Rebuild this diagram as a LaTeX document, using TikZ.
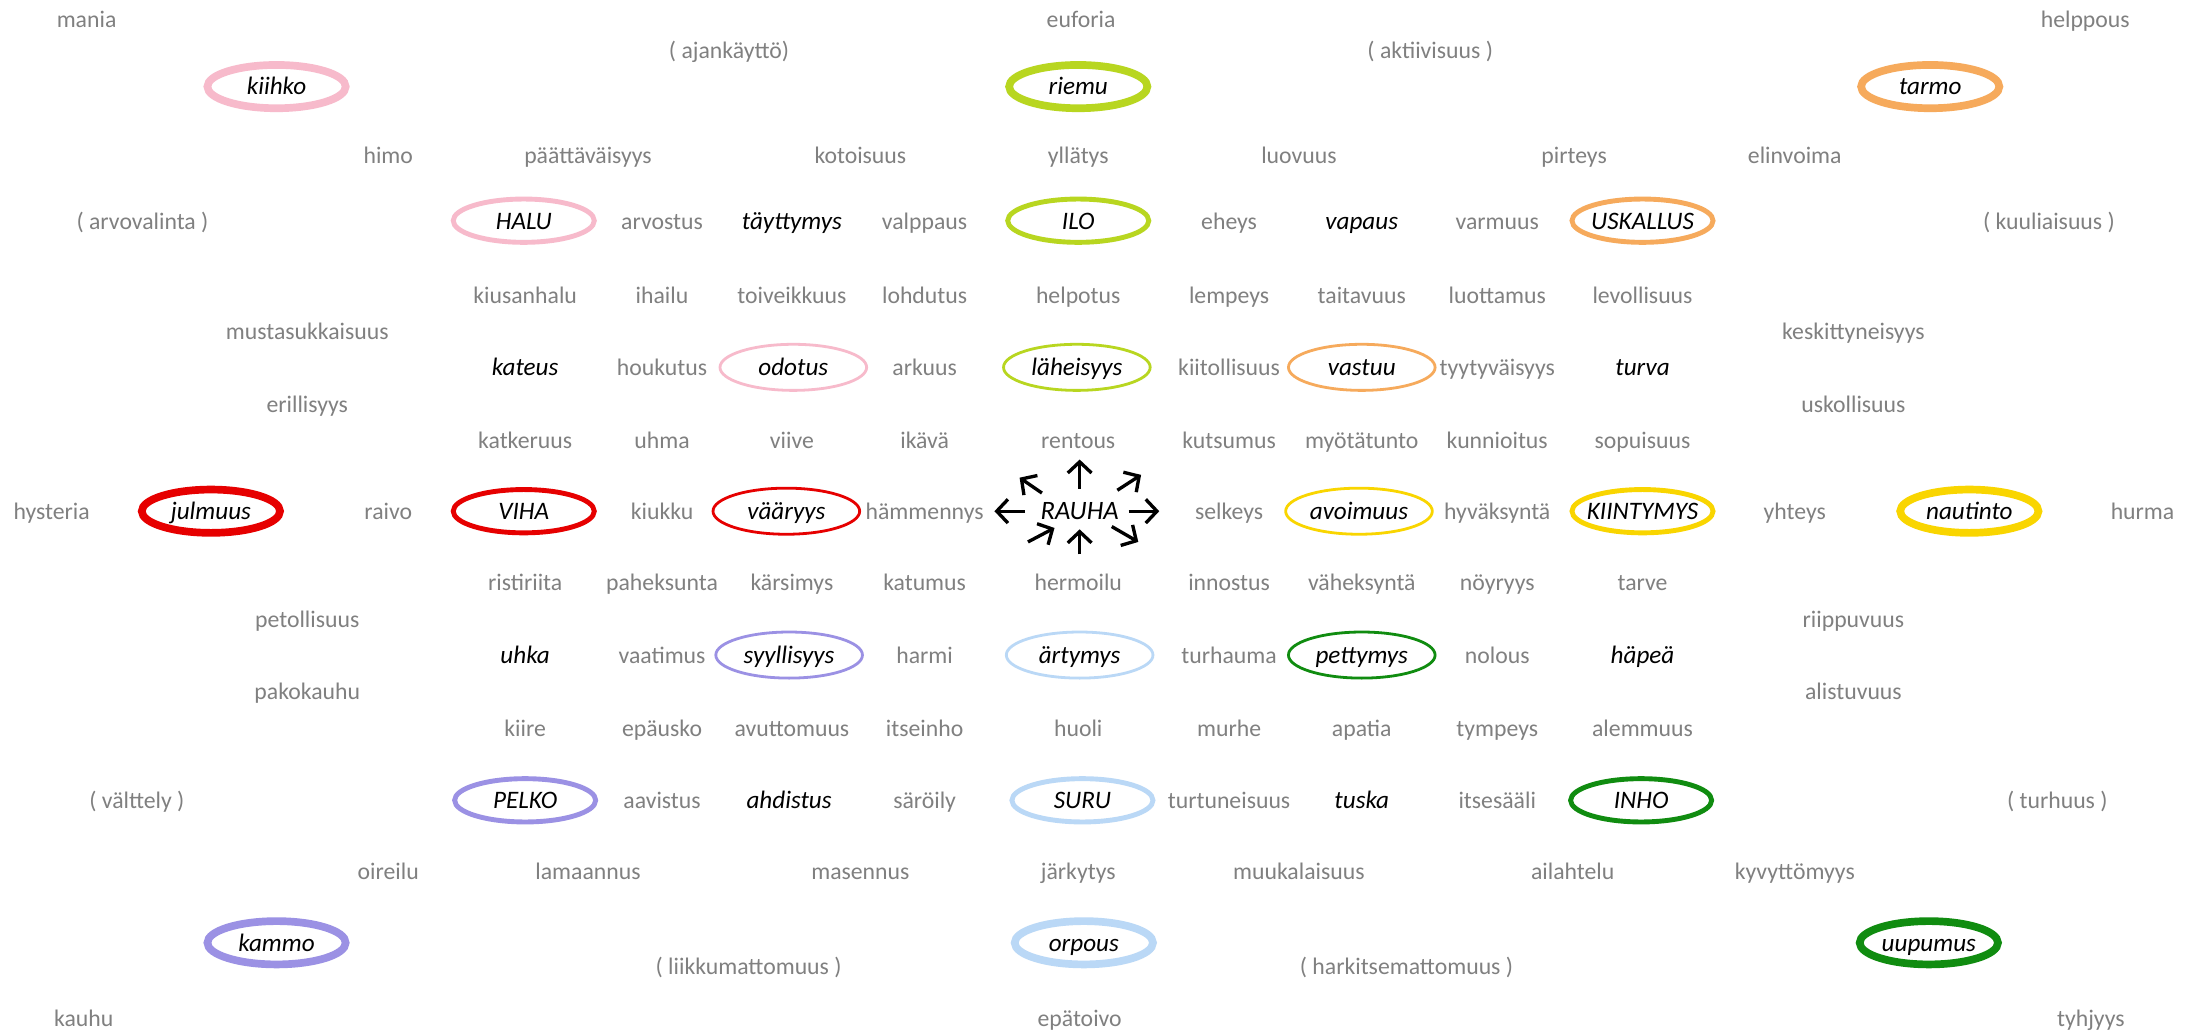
\documentclass[tikz,border=0pt]{standalone}
\usepackage{fontspec}
\setmainfont{Carlito}
\usepackage{tikz}
\usetikzlibrary{shapes.geometric, arrows.meta}
\definecolor{wordgray}{RGB}{128, 128, 128}
\definecolor{halupink}{RGB}{247, 186, 203}
\definecolor{ilolime}{RGB}{184, 214, 32}
\definecolor{uskorange}{RGB}{246, 170, 92}
\definecolor{vihared}{RGB}{230, 0, 0}
\definecolor{kiintgold}{RGB}{249, 213, 0}
\definecolor{pelkoviolet}{RGB}{155, 145, 228}
\definecolor{surusky}{RGB}{186, 216, 246}
\definecolor{inhogreen}{RGB}{16, 140, 16}
\newcommand{\kw}[1]{\makebox[0pt]{#1}}

\begin{document}
\begin{tikzpicture}[x=1pt, y=-1pt,
  word/.style={text=wordgray, font=\fontsize{17}{20}\selectfont,
    text height=16pt, text depth=4pt, inner sep=0pt},
  keyword/.style={word, text=black, font=\fontsize{18}{20}\selectfont\itshape},
  ring/.style={keyword, ellipse, draw, minimum width=101pt, minimum height=31pt},
  faint/.style={ring, line width=2pt, minimum width=105pt, minimum height=33pt},
  plain/.style={ring, line width=3.5pt},
  heavy/.style={ring, line width=5.5pt, minimum width=99pt},
  ray/.style={-{Straight Barb[length=8pt, width=17pt]}, line width=2.4pt}]
  \fill[white] (0, 0) rectangle (1568, 740);

  % top edge
  \node[word] (mania) at (62, 14) {mania};
  \node[word] (euforia) at (774, 14) {euforia};
  \node[word] (helppous) at (1493, 14) {helppous};
  \node[word] (ajankaytto) at (522, 36) {( ajankäyttö)};
  \node[word] (aktiivisuus) at (1024, 36) {( aktiivisuus )};
  \node[heavy, draw=halupink] (kiihko) at (198, 62) {\kw{kiihko}};
  \node[heavy, draw=ilolime] (riemu) at (772, 62) {\kw{riemu}};
  \node[heavy, draw=uskorange] (tarmo) at (1382, 62) {\kw{tarmo}};

  \node[word] (himo) at (278, 111) {himo};
  \node[word] (paattavaisyys) at (421, 111) {päättäväisyys};
  \node[word] (kotoisuus) at (616, 111) {kotoisuus};
  \node[word] (yllatys) at (772, 111) {yllätys};
  \node[word] (luovuus) at (930, 111) {luovuus};
  \node[word] (pirteys) at (1127, 111) {pirteys};
  \node[word] (elinvoima) at (1285, 111) {elinvoima};

  % row of HALU, ILO, USKALLUS
  \node[word] (arvovalinta) at (102, 158) {( arvovalinta )};
  \node[plain, draw=halupink] (halu) at (375, 158) {\kw{HALU}};
  \node[word] (arvostus) at (474, 158) {arvostus};
  \node[keyword] (tayttymys) at (567, 158) {täyttymys};
  \node[word] (valppaus) at (662, 158) {valppaus};
  \node[plain, draw=ilolime] (ilo) at (772, 158) {\kw{ILO}};
  \node[word] (eheys) at (880, 158) {eheys};
  \node[keyword] (vapaus) at (975, 158) {vapaus};
  \node[word] (varmuus) at (1072, 158) {varmuus};
  \node[plain, draw=uskorange] (uskallus) at (1176, 158) {\kw{USKALLUS}};
  \node[word] (kuuliaisuus) at (1467, 158) {( kuuliaisuus )};

  \node[word] (kiusanhalu) at (376, 211) {kiusanhalu};
  \node[word] (ihailu) at (474, 211) {ihailu};
  \node[word] (toiveikkuus) at (567, 211) {toiveikkuus};
  \node[word] (lohdutus) at (662, 211) {lohdutus};
  \node[word] (helpotus) at (772, 211) {helpotus};
  \node[word] (lempeys) at (880, 211) {lempeys};
  \node[word] (taitavuus) at (975, 211) {taitavuus};
  \node[word] (luottamus) at (1072, 211) {luottamus};
  \node[word] (levollisuus) at (1176, 211) {levollisuus};

  \node[word] (mustasukkaisuus) at (220, 237) {mustasukkaisuus};
  \node[word] (keskittyneisyys) at (1327, 237) {keskittyneisyys};

  \node[keyword] (kateus) at (376, 263) {kateus};
  \node[word] (houkutus) at (474, 263) {houkutus};
  \node[faint, draw=halupink] (odotus) at (568, 263) {\kw{odotus}};
  \node[word] (arkuus) at (662, 263) {arkuus};
  \node[faint, draw=ilolime] (laheisyys) at (771, 263) {\kw{läheisyys}};
  \node[word] (kiitollisuus) at (880, 263) {kiitollisuus};
  \node[faint, draw=uskorange] (vastuu) at (975, 263) {\kw{vastuu}};
  \node[word] (tyytyvaisyys) at (1072, 263) {tyytyväisyys};
  \node[keyword] (turva) at (1176, 263) {turva};

  \node[word] (erillisyys) at (220, 289) {erillisyys};
  \node[word] (uskollisuus) at (1327, 289) {uskollisuus};

  \node[word] (katkeruus) at (376, 315) {katkeruus};
  \node[word] (uhma) at (474, 315) {uhma};
  \node[word] (viive) at (567, 315) {viive};
  \node[word] (ikava) at (662, 315) {ikävä};
  \node[word] (rentous) at (772, 315) {rentous};
  \node[word] (kutsumus) at (880, 315) {kutsumus};
  \node[word] (myotatunto) at (975, 315) {myötätunto};
  \node[word] (kunnioitus) at (1072, 315) {kunnioitus};
  \node[word] (sopuisuus) at (1176, 315) {sopuisuus};

  % middle row
  \node[word] (hysteria) at (37, 366) {hysteria};
  \node[heavy, draw=vihared] (julmuus) at (151, 366) {\kw{julmuus}};
  \node[word] (raivo) at (278, 366) {raivo};
  \node[plain, draw=vihared] (viha) at (375, 366) {\kw{VIHA}};
  \node[word] (kiukku) at (474, 366) {kiukku};
  \node[faint, draw=vihared] (vaaryys) at (563, 366) {\kw{vääryys}};
  \node[word] (hammennys) at (662, 366) {hämmennys};
  \node[keyword, font=\fontsize{19}{20}\selectfont\itshape] (rauha) at (773, 366) {RAUHA};
  \node[word] (selkeys) at (880, 366) {selkeys};
  \node[faint, draw=kiintgold] (avoimuus) at (973, 366) {\kw{avoimuus}};
  \node[word] (hyvaksynta) at (1072, 366) {hyväksyntä};
  \node[plain, draw=kiintgold] (kiintymys) at (1176, 366) {\kw{KIINTYMYS}};
  \node[word] (yhteys) at (1285, 366) {yhteys};
  \node[heavy, draw=kiintgold] (nautinto) at (1410, 366) {\kw{nautinto}};
  \node[word] (hurma) at (1534, 366) {hurma};

  % arrows round RAUHA
  \draw[ray] ([shift={(0, -16)}]rauha.center) -- ++(0, -21);
  \draw[ray] ([shift={(-39, 0)}]rauha.center) -- ++(-22, 0);
  \draw[ray] ([shift={(35, 0)}]rauha.center) -- ++(22, 0);
  \draw[ray] ([shift={(-27, -13)}]rauha.center) -- ++(-16, -11);
  \draw[ray] ([shift={(27, -15)}]rauha.center) -- ++(17, -11);
  \draw[ray] ([shift={(-37, 22)}]rauha.center) -- ++(19, -10);
  \draw[ray] ([shift={(0, 31)}]rauha.center) -- ++(0, -18);
  \draw[ray] ([shift={(23, 11)}]rauha.center) -- ++(19, 11);

  \node[word] (ristiriita) at (376, 417) {ristiriita};
  \node[word] (paheksunta) at (474, 417) {paheksunta};
  \node[word] (karsimys) at (567, 417) {kärsimys};
  \node[word] (katumus) at (662, 417) {katumus};
  \node[word] (hermoilu) at (772, 417) {hermoilu};
  \node[word] (innostus) at (880, 417) {innostus};
  \node[word] (vaheksynta) at (975, 417) {väheksyntä};
  \node[word] (noyryys) at (1072, 417) {nöyryys};
  \node[word] (tarve) at (1176, 417) {tarve};

  \node[word] (petollisuus) at (220, 443) {petollisuus};
  \node[word] (riippuvuus) at (1327, 443) {riippuvuus};

  \node[keyword] (uhka) at (376, 469) {uhka};
  \node[word] (vaatimus) at (474, 469) {vaatimus};
  \node[faint, draw=pelkoviolet] (syyllisyys) at (565, 469) {\kw{syyllisyys}};
  \node[word] (harmi) at (662, 469) {harmi};
  \node[faint, draw=surusky] (artymys) at (773, 469) {\kw{ärtymys}};
  \node[word] (turhauma) at (880, 469) {turhauma};
  \node[faint, draw=inhogreen] (pettymys) at (975, 469) {\kw{pettymys}};
  \node[word] (nolous) at (1072, 469) {nolous};
  \node[keyword] (hapea) at (1176, 469) {häpeä};

  \node[word] (pakokauhu) at (220, 495) {pakokauhu};
  \node[word] (alistuvuus) at (1327, 495) {alistuvuus};

  \node[word] (kiire) at (376, 521) {kiire};
  \node[word] (epausko) at (474, 521) {epäusko};
  \node[word] (avuttomuus) at (567, 521) {avuttomuus};
  \node[word] (itseinho) at (662, 521) {itseinho};
  \node[word] (huoli) at (772, 521) {huoli};
  \node[word] (murhe) at (880, 521) {murhe};
  \node[word] (apatia) at (975, 521) {apatia};
  \node[word] (tympeys) at (1072, 521) {tympeys};
  \node[word] (alemmuus) at (1176, 521) {alemmuus};

  % row of PELKO, SURU, INHO
  \node[word] (valttely) at (98, 573) {( välttely )};
  \node[plain, draw=pelkoviolet] (pelko) at (376, 573) {\kw{PELKO}};
  \node[word] (aavistus) at (474, 573) {aavistus};
  \node[keyword] (ahdistus) at (565, 573) {ahdistus};
  \node[word] (saroily) at (662, 573) {säröily};
  \node[plain, draw=surusky] (suru) at (775, 573) {\kw{SURU}};
  \node[word] (turtuneisuus) at (880, 573) {turtuneisuus};
  \node[keyword] (tuska) at (975, 573) {tuska};
  \node[word] (itsesaali) at (1072, 573) {itsesääli};
  \node[plain, draw=inhogreen] (inho) at (1175, 573) {\kw{INHO}};
  \node[word] (turhuus) at (1473, 573) {( turhuus )};

  \node[word] (oireilu) at (278, 624) {oireilu};
  \node[word] (lamaannus) at (421, 624) {lamaannus};
  \node[word] (masennus) at (616, 624) {masennus};
  \node[word] (jarkytys) at (772, 624) {järkytys};
  \node[word] (muukalaisuus) at (930, 624) {muukalaisuus};
  \node[word] (ailahtelu) at (1126, 624) {ailahtelu};
  \node[word] (kyvyttomyys) at (1285, 624) {kyvyttömyys};

  % bottom edge
  \node[heavy, draw=pelkoviolet] (kammo) at (198, 675) {\kw{kammo}};
  \node[heavy, draw=surusky] (orpous) at (776, 675) {\kw{orpous}};
  \node[heavy, draw=inhogreen] (uupumus) at (1381, 675) {\kw{uupumus}};
  \node[word] (liikkumattomuus) at (536, 692) {( liikkumattomuus )};
  \node[word] (harkitsemattomuus) at (1007, 692) {( harkitsemattomuus )};
  \node[word] (kauhu) at (60, 729) {kauhu};
  \node[word] (epatoivo) at (773, 729) {epätoivo};
  \node[word] (tyhjyys) at (1497, 729) {tyhjyys};
\end{tikzpicture}
\end{document}
